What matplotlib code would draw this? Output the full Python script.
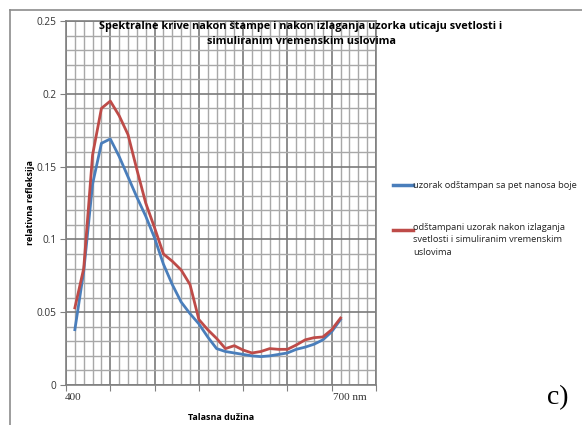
import matplotlib.pyplot as plt
from matplotlib.lines import Line2D
from matplotlib.ticker import MultipleLocator

# wavelength (nm) and relative reflectance
wavelengths = [410, 420, 430, 440, 450, 460, 470, 480, 490, 500, 510,
               520, 530, 540, 550, 560, 570, 580, 590, 600, 610,
               620, 630, 640, 650, 660, 670, 680, 690, 700, 710]
uzorak = [0.038, 0.078, 0.138, 0.166, 0.169, 0.157, 0.143, 0.129, 0.116, 0.101, 0.083,
          0.069, 0.057, 0.049, 0.042, 0.033, 0.025, 0.023, 0.022, 0.021, 0.020,
          0.0195, 0.020, 0.021, 0.022, 0.0245, 0.026, 0.028, 0.031, 0.0366, 0.045]
izlozen = [0.053, 0.080, 0.158, 0.190, 0.195, 0.185, 0.172, 0.148, 0.125, 0.108, 0.090,
           0.085, 0.079, 0.069, 0.045, 0.038, 0.032, 0.025, 0.027, 0.024, 0.022,
           0.023, 0.025, 0.0245, 0.0245, 0.0275, 0.031, 0.0325, 0.033, 0.038, 0.046]

y_ticks = [0, 0.05, 0.1, 0.15, 0.2, 0.25]
y_tick_labels = ['0', '0.05', '0.1', '0.15', '0.2', '0.25']

title = 'Spektralne krive nakon štampe i nakon izlaganja uzorka uticaju svetlosti i\nsimuliranim vremenskim uslovima'
label_blue = 'uzorak odštampan sa pet nanosa boje'
label_red = 'odštampani uzorak nakon izlaganja\nsvetlosti i simuliranim vremenskim\nuslovima'

W, H = 582, 425
BLUE = '#4a7ebb'
RED = '#be4b48'

plt.rcParams['font.family'] = ['Open Sans', 'DejaVu Sans']


def fx(x):
    return x / W


def fy(y):
    return 1 - y / H


fig = plt.figure(figsize=(W / 100, H / 100), dpi=100)
ax = fig.add_axes([fx(66), fy(385), fx(376) - fx(66), fy(21) - fy(385)])

ax.plot(wavelengths, uzorak, color=BLUE, lw=2.0, solid_joinstyle='round', zorder=3)
ax.plot(wavelengths, izlozen, color=RED, lw=2.0, solid_joinstyle='round', zorder=3)

ax.set_xlim(400, 750)
ax.set_ylim(0, 0.25)
ax.xaxis.set_major_locator(MultipleLocator(50))
ax.xaxis.set_minor_locator(MultipleLocator(10))
ax.set_yticks(y_ticks)
ax.set_yticklabels(y_tick_labels)
ax.yaxis.set_minor_locator(MultipleLocator(0.01))
ax.set_xticklabels([])

ax.grid(which='minor', color='#a8a8a8', lw=1.0)
ax.grid(which='major', color='#7a7a7a', lw=1.2)
ax.set_axisbelow(True)
ax.tick_params(which='major', direction='out', length=4, color='#808080', labelsize=7.3,
               labelcolor='#333333', pad=3)
ax.tick_params(which='minor', length=0)
for s in ax.spines.values():
    s.set_color('#808080')
    s.set_linewidth(1.2)

ax.set_xlabel('Talasna dužina', fontsize=6.5, fontweight='bold', labelpad=13)
ax.set_ylabel('relativna refleksija', fontsize=6.5, fontweight='bold', labelpad=1)

fig.text(fx(301), fy(34), title, ha='center', va='center', fontsize=7.8,
         fontweight='bold', linespacing=1.5)

# x labels written on the chart
fig.text(fx(73), fy(398), '400', ha='center', va='center', fontsize=8,
         family='Liberation Serif', color='#333333')
fig.text(fx(333), fy(398), '700 nm', ha='left', va='center', fontsize=8,
         family='Liberation Serif', color='#333333')
fig.text(fx(558), fy(398), 'c)', ha='center', va='center', fontsize=20,
         family='Liberation Serif')

# legend
fig.add_artist(Line2D([fx(393), fx(413)], [fy(185), fy(185)], color=BLUE, lw=2.5))
fig.text(fx(413), fy(185), label_blue, ha='left', va='center', fontsize=6.7, color='#222222')
fig.add_artist(Line2D([fx(393), fx(413)], [fy(230), fy(230)], color=RED, lw=2.5))
fig.text(fx(413), fy(223), label_red, ha='left', va='top', fontsize=6.7, color='#222222',
         linespacing=1.5)

# outer chart border
fig.add_artist(Line2D([fx(10), fx(10)], [fy(10), 0], color='#8c8c8c', lw=1.2))
fig.add_artist(Line2D([fx(10), 1], [fy(10), fy(10)], color='#8c8c8c', lw=1.2))

fig.savefig('out.png', dpi=100)
